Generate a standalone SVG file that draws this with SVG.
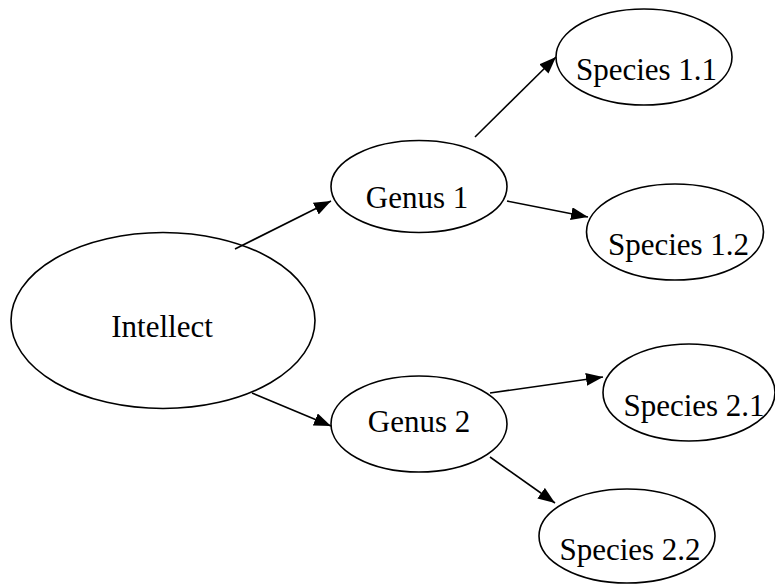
<svg xmlns="http://www.w3.org/2000/svg" width="775" height="585" viewBox="0 0 775 585">
<defs>
<marker id="arr" markerUnits="userSpaceOnUse" markerWidth="18" markerHeight="14" refX="17" refY="6.5" orient="auto">
<path d="M0,0 L17,6.5 L0,13 z" fill="#000"/>
</marker>
<style>
.n ellipse{fill:#fff;stroke:#000;stroke-width:1.6}
.n text{font-family:"Liberation Serif","Times New Roman",serif;font-size:31px;fill:#000;text-anchor:middle}
.e line{stroke:#000;stroke-width:1.6;marker-end:url(#arr)}
</style>
</defs>
<rect width="775" height="585" fill="#fff"/>
<g id="intellect" class="n"><ellipse cx="163" cy="320.5" rx="152" ry="88"/><text x="162" y="337">Intellect</text></g>
<g id="genus1" class="n"><ellipse cx="419" cy="186.5" rx="88" ry="46"/><text x="417" y="208">Genus 1</text></g>
<g id="genus2" class="n"><ellipse cx="419" cy="424" rx="88" ry="48"/><text x="419" y="432">Genus 2</text></g>
<g id="species11" class="n"><ellipse cx="644" cy="57" rx="88" ry="48"/><text x="646.5" y="80">Species 1.1</text></g>
<g id="species12" class="n"><ellipse cx="675" cy="232" rx="88.5" ry="48"/><text x="678.5" y="255">Species 1.2</text></g>
<g id="species21" class="n"><ellipse cx="689" cy="392.5" rx="86" ry="48.5"/><text x="694" y="416">Species 2.1</text></g>
<g id="species22" class="n"><ellipse cx="627" cy="536" rx="88" ry="47"/><text x="630" y="560">Species 2.2</text></g>
<g id="connectors" class="e">
<line x1="235" y1="249" x2="331" y2="201"/>
<line x1="252" y1="393" x2="331" y2="426"/>
<line x1="475" y1="137" x2="556" y2="57"/>
<line x1="507" y1="201" x2="588" y2="217"/>
<line x1="490" y1="393" x2="603" y2="377"/>
<line x1="490" y1="457" x2="555" y2="503"/>
</g>
</svg>
